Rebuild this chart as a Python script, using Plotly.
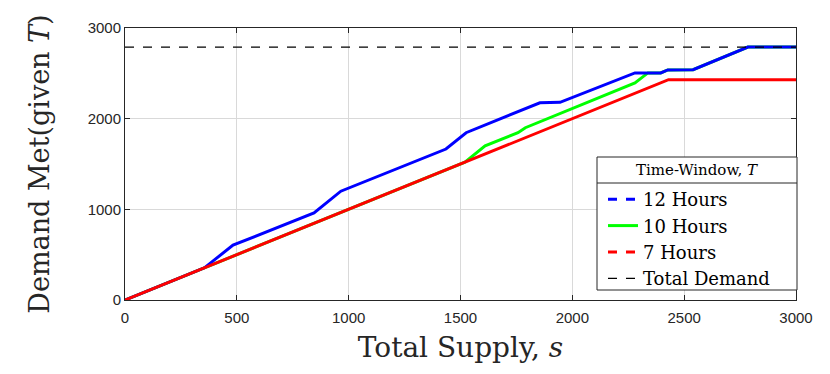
"""Demand met versus total supply for several time windows."""
import plotly.graph_objects as go

# supply / demand-met breakpoints
supply_12h = [0, 355, 483, 845, 965, 1435, 1525, 1855, 1945, 2280, 2395, 2427, 2540, 2785, 3000]
met_12h = [0, 355, 605, 960, 1200, 1665, 1845, 2175, 2180, 2505, 2505, 2538, 2540, 2790, 2790]

supply_10h = [0, 1520, 1610, 1757, 1790, 2280, 2338, 2395, 2427, 2540, 2785, 3000]
met_10h = [0, 1520, 1700, 1845, 1900, 2395, 2505, 2505, 2538, 2540, 2790, 2790]

supply_7h = [0, 2430, 3000]
met_7h = [0, 2430, 2430]

total_demand = 2790
x_range = [0, 3000]

BLUE = "#0000ff"
GREEN = "#00ff00"
RED = "#ff0000"
SERIF = "DejaVu Serif"
SANS = "Liberation Sans"

fig = go.Figure()

# plotted lines (solid), drawing order: green, blue, red, demand on top
fig.add_trace(go.Scatter(x=supply_10h, y=met_10h, mode="lines",
                         line=dict(color=GREEN, width=3), showlegend=False))
fig.add_trace(go.Scatter(x=supply_12h, y=met_12h, mode="lines",
                         line=dict(color=BLUE, width=3), showlegend=False))
fig.add_trace(go.Scatter(x=supply_7h, y=met_7h, mode="lines",
                         line=dict(color=RED, width=3), showlegend=False))
fig.add_trace(go.Scatter(x=x_range, y=[total_demand, total_demand], mode="lines",
                         line=dict(color="black", width=1.3, dash="dash"),
                         showlegend=False))

# legend-only entries (legend shows dashed styles)
legend_items = [
    ("12 Hours", BLUE, "dash", 3),
    ("10 Hours", GREEN, "solid", 3),
    ("7 Hours", RED, "dash", 3),
    ("Total Demand", "black", "dash", 1.3),
]
for name, color, dash, width in legend_items:
    fig.add_trace(go.Scatter(x=[None], y=[None], mode="lines", name=name,
                             line=dict(color=color, width=width, dash=dash)))

# plot area in pixels: x 125..796, y 28..300
px_l, px_r, px_t, px_b = 125, 796, 28, 300


def paper_x(px):
    return (px - px_l) / (px_r - px_l)


def paper_y(py):
    return (px_b - py) / (px_b - px_t)


box_l, box_r, box_t, box_b, sep = 597, 797, 157, 290, 183

fig.add_shape(type="rect", xref="paper", yref="paper",
              x0=paper_x(box_l), x1=paper_x(box_r), y0=paper_y(box_b), y1=paper_y(box_t),
              line=dict(color="#262626", width=1), fillcolor="white", layer="above")
fig.add_shape(type="line", xref="paper", yref="paper",
              x0=paper_x(box_l), x1=paper_x(box_r), y0=paper_y(sep), y1=paper_y(sep),
              line=dict(color="#262626", width=1), layer="above")
fig.add_annotation(text="Time-Window, <i>T</i>", xref="paper", yref="paper",
                   x=paper_x((box_l + box_r) / 2), y=paper_y((box_t + sep) / 2),
                   xanchor="center", yanchor="middle",
                   showarrow=False, font=dict(family=SERIF, size=15, color="black"))

axis_common = dict(
    showline=True, linecolor="#262626", linewidth=1, mirror="ticks",
    ticks="inside", ticklen=5, tickcolor="#262626",
    showgrid=True, gridcolor="#d9d9d9", gridwidth=1, zeroline=False,
    tickfont=dict(family=SANS, size=15, color="#262626"),
)

fig.update_layout(
    width=830, height=374,
    margin=dict(l=px_l, r=830 - px_r, t=px_t, b=374 - px_b),
    paper_bgcolor="white", plot_bgcolor="white",
    xaxis=dict(range=x_range, dtick=500, ticklabelstandoff=4,
               title=dict(text="Total Supply, <i>s</i>", standoff=12,
                          font=dict(family=SERIF, size=28, color="#262626")),
               **axis_common),
    yaxis=dict(range=[0, 3000], dtick=1000,
               title=dict(text="Demand Met(given <i>T</i>)", standoff=30,
                          font=dict(family=SERIF, size=27, color="#262626")),
               **axis_common),
    legend=dict(x=paper_x(box_l + 6), y=paper_y(181), xanchor="left", yanchor="top",
                bgcolor="rgba(0,0,0,0)", borderwidth=0, tracegroupgap=0,
                font=dict(family=SERIF, size=18, color="black")),
    showlegend=True,
)

fig.write_html("out.html", config={"displayModeBar": False},
               post_script="document.body.style.margin='0px';")
